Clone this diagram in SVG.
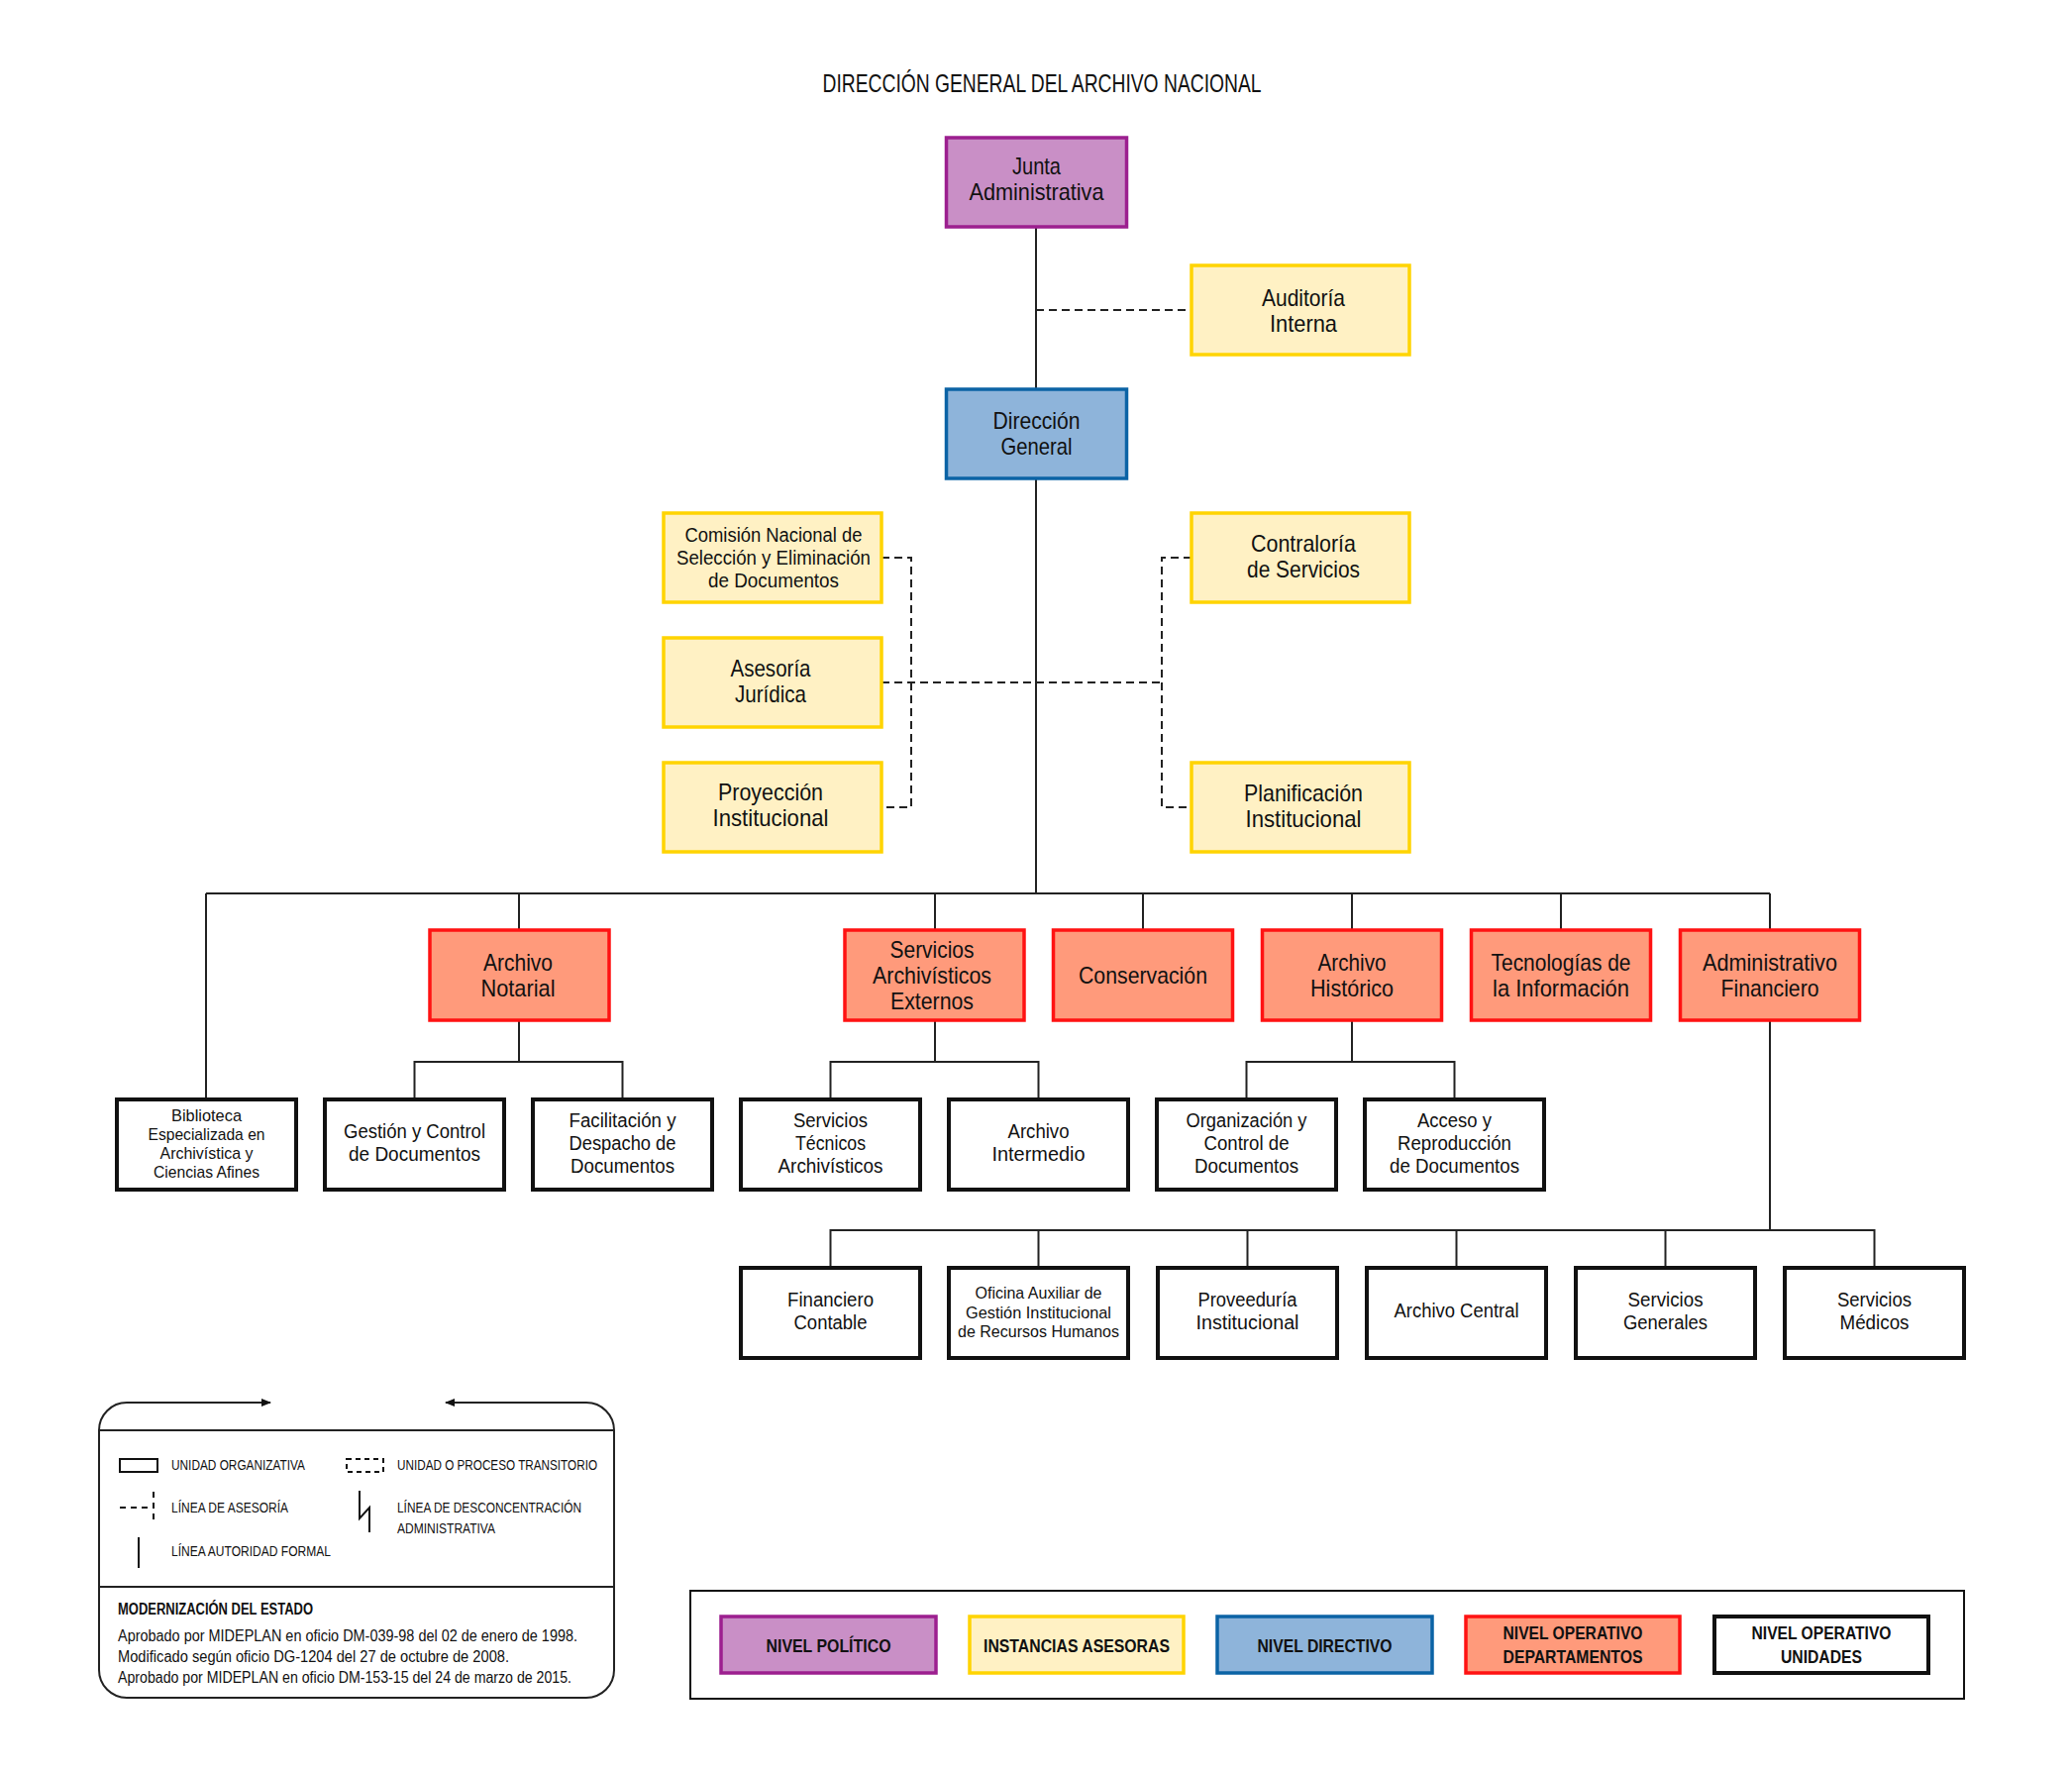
<svg xmlns="http://www.w3.org/2000/svg" width="2092" height="1791" viewBox="0 0 2092 1791">
<style>
text{font-family:"Liberation Sans",Arial,sans-serif;fill:#111}
.c{text-anchor:middle}
.f24{font-size:24px}
.f20{font-size:20px}
.f17{font-size:17px}
.pol{fill:#C98FC6;stroke:#9C1F8F;stroke-width:3.5}
.ase{fill:#FFF1C4;stroke:#FFD400;stroke-width:3.5}
.dir{fill:#8EB4DA;stroke:#0B63A5;stroke-width:3.5}
.dep{fill:#FF9A7B;stroke:#FF1212;stroke-width:3.5}
.uni{fill:#fff;stroke:#111;stroke-width:4}
.ln{fill:none;stroke:#222;stroke-width:2}
.dl{fill:none;stroke:#222;stroke-width:2;stroke-dasharray:8 5}
.lg{font-size:15px}
.lb{font-size:18px;font-weight:bold}
</style>
<defs>
<marker id="ah" viewBox="0 0 10 10" refX="9" refY="5" markerWidth="10" markerHeight="10" markerUnits="userSpaceOnUse" orient="auto"><path d="M0,1 L10,5 L0,9 Z" fill="#111"/></marker>
</defs>
<rect width="2092" height="1791" fill="#fff"/>
<text id="title" class="c" x="1052" y="93" style="font-size:26px" textLength="443" lengthAdjust="spacingAndGlyphs">DIRECCIÓN GENERAL DEL ARCHIVO NACIONAL</text>

<g id="connectors">
<path class="ln" d="M1046,229 V393 M1046,484 V902"/>
<path class="dl" d="M1046,313 H1203"/>
<path class="dl" d="M890,689 H1173"/>
<path class="dl" d="M890,563 H920 V815 H890"/>
<path class="dl" d="M1203,563 H1173 V815 H1203"/>
<path class="ln" d="M208,902 H1787 M208,902 V1110 M524,902 V939 M944,902 V939 M1154,902 V939 M1365,902 V939 M1576,902 V939 M1787,902 V939"/>
<path class="ln" d="M524,1030 V1072 M418.5,1110 V1072 H628.5 V1110"/>
<path class="ln" d="M944,1030 V1072 M838.5,1110 V1072 H1048.5 V1110"/>
<path class="ln" d="M1365,1030 V1072 M1258.5,1110 V1072 H1468.5 V1110"/>
<path class="ln" d="M1787,1030 V1242 M838.5,1280 V1242 H1892.5 V1280 M1048.5,1242 V1280 M1259.5,1242 V1280 M1470.5,1242 V1280 M1681.5,1242 V1280"/>
</g>

<g id="junta"><rect class="pol" x="955.5" y="139" width="182" height="90"/><text class="c f24" x="1046.5" y="176" textLength="49" lengthAdjust="spacingAndGlyphs">Junta</text><text class="c f24" x="1046.5" y="202" textLength="136" lengthAdjust="spacingAndGlyphs">Administrativa</text></g>
<g id="auditoria"><rect class="ase" x="1203" y="268" width="220" height="90"/><text class="c f24" x="1316" y="309" textLength="84" lengthAdjust="spacingAndGlyphs">Auditoría</text><text class="c f24" x="1316" y="335" textLength="68" lengthAdjust="spacingAndGlyphs">Interna</text></g>
<g id="direccion"><rect class="dir" x="955.5" y="393" width="182" height="90"/><text class="c f24" x="1046.5" y="433" textLength="88" lengthAdjust="spacingAndGlyphs">Dirección</text><text class="c f24" x="1046.5" y="459" textLength="72" lengthAdjust="spacingAndGlyphs">General</text></g>
<g id="comision"><rect class="ase" x="670" y="518" width="220" height="90"/><text class="c f20" x="781" y="547" textLength="179" lengthAdjust="spacingAndGlyphs">Comisión Nacional de</text><text class="c f20" x="781" y="570" textLength="196" lengthAdjust="spacingAndGlyphs">Selección y Eliminación</text><text class="c f20" x="781" y="593" textLength="132" lengthAdjust="spacingAndGlyphs">de Documentos</text></g>
<g id="asesoria"><rect class="ase" x="670" y="644" width="220" height="90"/><text class="c f24" x="778" y="683" textLength="81" lengthAdjust="spacingAndGlyphs">Asesoría</text><text class="c f24" x="778" y="709" textLength="72" lengthAdjust="spacingAndGlyphs">Jurídica</text></g>
<g id="proyeccion"><rect class="ase" x="670" y="770" width="220" height="90"/><text class="c f24" x="778" y="808" textLength="106" lengthAdjust="spacingAndGlyphs">Proyección</text><text class="c f24" x="778" y="834" textLength="117" lengthAdjust="spacingAndGlyphs">Institucional</text></g>
<g id="contraloria"><rect class="ase" x="1203" y="518" width="220" height="90"/><text class="c f24" x="1316" y="557" textLength="106" lengthAdjust="spacingAndGlyphs">Contraloría</text><text class="c f24" x="1316" y="583" textLength="114" lengthAdjust="spacingAndGlyphs">de Servicios</text></g>
<g id="planificacion"><rect class="ase" x="1203" y="770" width="220" height="90"/><text class="c f24" x="1316" y="809" textLength="120" lengthAdjust="spacingAndGlyphs">Planificación</text><text class="c f24" x="1316" y="835" textLength="117" lengthAdjust="spacingAndGlyphs">Institucional</text></g>

<g id="archivo-notarial"><rect class="dep" x="434" y="939" width="181" height="91"/><text class="c f24" x="523" y="980" textLength="70" lengthAdjust="spacingAndGlyphs">Archivo</text><text class="c f24" x="523" y="1006" textLength="75" lengthAdjust="spacingAndGlyphs">Notarial</text></g>
<g id="servicios-archivisticos-externos"><rect class="dep" x="853" y="939" width="181" height="91"/><text class="c f24" x="941" y="967" textLength="85" lengthAdjust="spacingAndGlyphs">Servicios</text><text class="c f24" x="941" y="993" textLength="120" lengthAdjust="spacingAndGlyphs">Archivísticos</text><text class="c f24" x="941" y="1019" textLength="84" lengthAdjust="spacingAndGlyphs">Externos</text></g>
<g id="conservacion"><rect class="dep" x="1063.5" y="939" width="181" height="91"/><text class="c f24" x="1154" y="993" textLength="130" lengthAdjust="spacingAndGlyphs">Conservación</text></g>
<g id="archivo-historico"><rect class="dep" x="1274.5" y="939" width="181" height="91"/><text class="c f24" x="1365" y="980" textLength="69" lengthAdjust="spacingAndGlyphs">Archivo</text><text class="c f24" x="1365" y="1006" textLength="84" lengthAdjust="spacingAndGlyphs">Histórico</text></g>
<g id="tecnologias"><rect class="dep" x="1485.5" y="939" width="181" height="91"/><text class="c f24" x="1576" y="980" textLength="141" lengthAdjust="spacingAndGlyphs">Tecnologías de</text><text class="c f24" x="1576" y="1006" textLength="138" lengthAdjust="spacingAndGlyphs">la Información</text></g>
<g id="administrativo-financiero"><rect class="dep" x="1696.5" y="939" width="181" height="91"/><text class="c f24" x="1787" y="980" textLength="136" lengthAdjust="spacingAndGlyphs">Administrativo</text><text class="c f24" x="1787" y="1006" textLength="99" lengthAdjust="spacingAndGlyphs">Financiero</text></g>

<g id="biblioteca"><rect class="uni" x="118" y="1110" width="181" height="91"/><text class="c f17" x="208.5" y="1132" textLength="71" lengthAdjust="spacingAndGlyphs">Biblioteca</text><text class="c f17" x="208.5" y="1151" textLength="118" lengthAdjust="spacingAndGlyphs">Especializada en</text><text class="c f17" x="208.5" y="1170" textLength="94" lengthAdjust="spacingAndGlyphs">Archivística y</text><text class="c f17" x="208.5" y="1189" textLength="107" lengthAdjust="spacingAndGlyphs">Ciencias Afines</text></g>
<g id="gestion-control"><rect class="uni" x="328" y="1110" width="181" height="91"/><text class="c f20" x="418.5" y="1149" textLength="143" lengthAdjust="spacingAndGlyphs">Gestión y Control</text><text class="c f20" x="418.5" y="1172" textLength="133" lengthAdjust="spacingAndGlyphs">de Documentos</text></g>
<g id="facilitacion"><rect class="uni" x="538" y="1110" width="181" height="91"/><text class="c f20" x="628.5" y="1138" textLength="108" lengthAdjust="spacingAndGlyphs">Facilitación y</text><text class="c f20" x="628.5" y="1161" textLength="108" lengthAdjust="spacingAndGlyphs">Despacho de</text><text class="c f20" x="628.5" y="1184" textLength="105" lengthAdjust="spacingAndGlyphs">Documentos</text></g>
<g id="servicios-tecnicos"><rect class="uni" x="748" y="1110" width="181" height="91"/><text class="c f20" x="838.5" y="1138" textLength="75" lengthAdjust="spacingAndGlyphs">Servicios</text><text class="c f20" x="838.5" y="1161" textLength="71" lengthAdjust="spacingAndGlyphs">Técnicos</text><text class="c f20" x="838.5" y="1184" textLength="106" lengthAdjust="spacingAndGlyphs">Archivísticos</text></g>
<g id="archivo-intermedio"><rect class="uni" x="958" y="1110" width="181" height="91"/><text class="c f20" x="1048.5" y="1149" textLength="62" lengthAdjust="spacingAndGlyphs">Archivo</text><text class="c f20" x="1048.5" y="1172" textLength="94" lengthAdjust="spacingAndGlyphs">Intermedio</text></g>
<g id="organizacion"><rect class="uni" x="1168" y="1110" width="181" height="91"/><text class="c f20" x="1258.5" y="1138" textLength="122" lengthAdjust="spacingAndGlyphs">Organización y</text><text class="c f20" x="1258.5" y="1161" textLength="86" lengthAdjust="spacingAndGlyphs">Control de</text><text class="c f20" x="1258.5" y="1184" textLength="105" lengthAdjust="spacingAndGlyphs">Documentos</text></g>
<g id="acceso"><rect class="uni" x="1378" y="1110" width="181" height="91"/><text class="c f20" x="1468.5" y="1138" textLength="75" lengthAdjust="spacingAndGlyphs">Acceso y</text><text class="c f20" x="1468.5" y="1161" textLength="115" lengthAdjust="spacingAndGlyphs">Reproducción</text><text class="c f20" x="1468.5" y="1184" textLength="131" lengthAdjust="spacingAndGlyphs">de Documentos</text></g>

<g id="financiero-contable"><rect class="uni" x="748" y="1280" width="181" height="91"/><text class="c f20" x="838.5" y="1319" textLength="87" lengthAdjust="spacingAndGlyphs">Financiero</text><text class="c f20" x="838.5" y="1342" textLength="74" lengthAdjust="spacingAndGlyphs">Contable</text></g>
<g id="oficina-auxiliar"><rect class="uni" x="958" y="1280" width="181" height="91"/><text class="c f17" x="1048.5" y="1311" textLength="128" lengthAdjust="spacingAndGlyphs">Oficina Auxiliar de</text><text class="c f17" x="1048.5" y="1331" textLength="147" lengthAdjust="spacingAndGlyphs">Gestión Institucional</text><text class="c f17" x="1048.5" y="1350" textLength="163" lengthAdjust="spacingAndGlyphs">de Recursos Humanos</text></g>
<g id="proveeduria"><rect class="uni" x="1169" y="1280" width="181" height="91"/><text class="c f20" x="1259.5" y="1319" textLength="100" lengthAdjust="spacingAndGlyphs">Proveeduría</text><text class="c f20" x="1259.5" y="1342" textLength="104" lengthAdjust="spacingAndGlyphs">Institucional</text></g>
<g id="archivo-central"><rect class="uni" x="1380" y="1280" width="181" height="91"/><text class="c f20" x="1470.5" y="1330" textLength="126" lengthAdjust="spacingAndGlyphs">Archivo Central</text></g>
<g id="servicios-generales"><rect class="uni" x="1591" y="1280" width="181" height="91"/><text class="c f20" x="1681.5" y="1319" textLength="76" lengthAdjust="spacingAndGlyphs">Servicios</text><text class="c f20" x="1681.5" y="1342" textLength="85" lengthAdjust="spacingAndGlyphs">Generales</text></g>
<g id="servicios-medicos"><rect class="uni" x="1802" y="1280" width="181" height="91"/><text class="c f20" x="1892.5" y="1319" textLength="75" lengthAdjust="spacingAndGlyphs">Servicios</text><text class="c f20" x="1892.5" y="1342" textLength="70" lengthAdjust="spacingAndGlyphs">Médicos</text></g>

<g id="legend-lines">
<path class="ln" d="M273,1416 H128 A28,28 0 0 0 100,1444 V1686 A28,28 0 0 0 128,1714 H592 A28,28 0 0 0 620,1686 V1444 A28,28 0 0 0 592,1416 H450"/>
<path class="ln" d="M130,1416 H273" marker-end="url(#ah)"/>
<path class="ln" d="M590,1416 H450" marker-end="url(#ah)"/>
<path class="ln" d="M100,1444 H620 M100,1602 H620"/>
<rect x="121" y="1473" width="38" height="13" fill="none" stroke="#111" stroke-width="2"/>
<rect x="350" y="1473" width="37" height="13" fill="none" stroke="#111" stroke-width="2" stroke-dasharray="5 4"/>
<path fill="none" stroke="#111" stroke-width="2" stroke-dasharray="6 5" d="M121,1522 H152 M155,1506 V1538"/>
<path fill="none" stroke="#111" stroke-width="2" d="M363,1505 V1533 L373,1522 V1547"/>
<path fill="none" stroke="#111" stroke-width="2" d="M140,1552 V1583"/>
<text class="lg" x="173" y="1484" textLength="135" lengthAdjust="spacingAndGlyphs">UNIDAD ORGANIZATIVA</text>
<text class="lg" x="401" y="1484" textLength="202" lengthAdjust="spacingAndGlyphs">UNIDAD O PROCESO TRANSITORIO</text>
<text class="lg" x="173" y="1527" textLength="118" lengthAdjust="spacingAndGlyphs">LÍNEA DE ASESORÍA</text>
<text class="lg" x="401" y="1527" textLength="186" lengthAdjust="spacingAndGlyphs">LÍNEA DE DESCONCENTRACIÓN</text>
<text class="lg" x="401" y="1548" textLength="99" lengthAdjust="spacingAndGlyphs">ADMINISTRATIVA</text>
<text class="lg" x="173" y="1571" textLength="161" lengthAdjust="spacingAndGlyphs">LÍNEA AUTORIDAD FORMAL</text>
<text x="119" y="1630" style="font-size:16px;font-weight:bold" textLength="197" lengthAdjust="spacingAndGlyphs">MODERNIZACIÓN DEL ESTADO</text>
<text x="119" y="1657" style="font-size:16px" textLength="464" lengthAdjust="spacingAndGlyphs">Aprobado por MIDEPLAN en oficio DM-039-98 del 02 de enero de 1998.</text>
<text x="119" y="1678" style="font-size:16px" textLength="395" lengthAdjust="spacingAndGlyphs">Modificado según oficio DG-1204 del 27 de octubre de 2008.</text>
<text x="119" y="1699" style="font-size:16px" textLength="458" lengthAdjust="spacingAndGlyphs">Aprobado por MIDEPLAN en oficio DM-153-15 del 24 de marzo de 2015.</text>
</g>

<g id="legend-levels">
<rect x="697" y="1606" width="1286" height="109" fill="none" stroke="#111" stroke-width="2"/>
<g id="lv-politico"><rect class="pol" x="728" y="1632" width="217" height="57"/><text class="c lb" x="836.5" y="1668" textLength="126" lengthAdjust="spacingAndGlyphs">NIVEL POLÍTICO</text></g>
<g id="lv-asesoras"><rect class="ase" x="979" y="1632" width="216" height="57"/><text class="c lb" x="1087" y="1668" textLength="188" lengthAdjust="spacingAndGlyphs">INSTANCIAS ASESORAS</text></g>
<g id="lv-directivo"><rect class="dir" x="1229" y="1632" width="217" height="57"/><text class="c lb" x="1337.5" y="1668" textLength="136" lengthAdjust="spacingAndGlyphs">NIVEL DIRECTIVO</text></g>
<g id="lv-departamentos"><rect class="dep" x="1480" y="1632" width="216" height="57"/><text class="c lb" x="1588" y="1655" textLength="141" lengthAdjust="spacingAndGlyphs">NIVEL OPERATIVO</text><text class="c lb" x="1588" y="1679" textLength="141" lengthAdjust="spacingAndGlyphs">DEPARTAMENTOS</text></g>
<g id="lv-unidades"><rect class="uni" x="1731" y="1632" width="216" height="57"/><text class="c lb" x="1839" y="1655" textLength="141" lengthAdjust="spacingAndGlyphs">NIVEL OPERATIVO</text><text class="c lb" x="1839" y="1679" textLength="82" lengthAdjust="spacingAndGlyphs">UNIDADES</text></g>
</g>
</svg>
